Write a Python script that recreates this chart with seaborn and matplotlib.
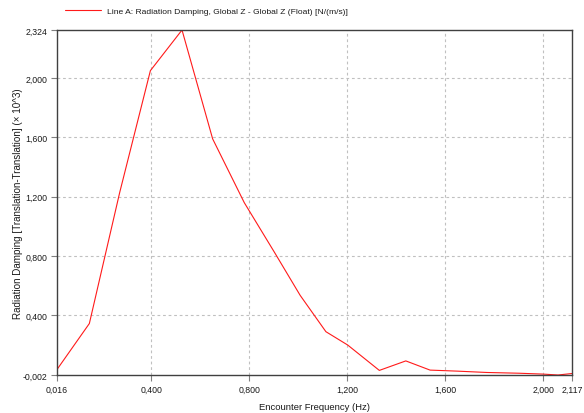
import matplotlib
matplotlib.use("Agg")
import matplotlib.pyplot as plt
from matplotlib.ticker import FixedLocator, FuncFormatter
import seaborn as sns
import pandas as pd

# Radiation damping (heave-heave) vs encounter frequency
freq_hz = [0.016, 0.148, 0.272, 0.397, 0.526, 0.651, 0.780, 0.905, 1.008,
           1.113, 1.202, 1.331, 1.439, 1.538, 1.650, 1.770, 1.900, 2.000,
           2.060, 2.117]
damping_e3 = [0.035, 0.345, 1.230, 2.050, 2.324, 1.590, 1.160, 0.820, 0.535,
              0.290, 0.200, 0.029, 0.093, 0.031, 0.024, 0.015, 0.010, 0.004,
              -0.002, 0.008]

x_ticks = [0.016, 0.400, 0.800, 1.200, 1.600, 2.000, 2.117]
y_ticks = [-0.002, 0.400, 0.800, 1.200, 1.600, 2.000, 2.324]

series_name = "Line A: Radiation Damping, Global Z - Global Z (Float) [N/(m/s)]"
x_label = "Encounter Frequency (Hz)"
y_label = "Radiation Damping [Translation-Translation] (\u00d7 10^3)"

df = pd.DataFrame({"freq": freq_hz, "damping": damping_e3, "series": series_name})

sns.set_style("white")
plt.rcParams["font.family"] = ["Liberation Sans", "DejaVu Sans"]

fig = plt.figure(figsize=(5.84, 4.14), dpi=100)
ax = fig.add_axes([57 / 584, 1 - 376 / 414, (572 - 57) / 584, (376 - 31) / 414])

sns.lineplot(data=df, x="freq", y="damping", hue="series",
             palette=["#ff1a1a"], linewidth=0.8, ax=ax, legend=False)

ax.set_xlim(x_ticks[0], x_ticks[-1])
ax.set_ylim(y_ticks[0], y_ticks[-1])

comma_fmt = FuncFormatter(lambda v, p: f"{v:.3f}".replace(".", ","))
ax.xaxis.set_major_locator(FixedLocator(x_ticks))
ax.yaxis.set_major_locator(FixedLocator(y_ticks))
ax.xaxis.set_major_formatter(comma_fmt)
ax.yaxis.set_major_formatter(comma_fmt)

ax.tick_params(axis="both", which="major", direction="out", length=4,
               width=0.8, color="#808080", labelsize=6.3, labelcolor="#1a1a1a",
               pad=3, bottom=True, left=True)

# dashed grid on interior ticks only
for xv in x_ticks[1:-1]:
    ax.axvline(xv, color="#c0c0c0", linestyle=(0, (2.5, 2.5)), linewidth=0.8, zorder=0)
for yv in y_ticks[1:-1]:
    ax.axhline(yv, color="#c0c0c0", linestyle=(0, (2.5, 2.5)), linewidth=0.8, zorder=0)

for sp in ax.spines.values():
    sp.set_visible(True)
    sp.set_color("#404040")
    sp.set_linewidth(1.0)

ax.set_xlabel(x_label, fontsize=6.8, color="#1a1a1a", va="center")
ax.set_ylabel(y_label, fontsize=7.1, color="#1a1a1a", va="center")
ax.xaxis.set_label_coords(0.5, (376 - 408) / 345)
ax.yaxis.set_label_coords((18 - 57) / 515, 0.5)

handle = plt.Line2D([], [], color="#ff1a1a", linewidth=0.8)
fig.legend([handle], [series_name], loc="center left",
           bbox_to_anchor=(65 / 584, 1 - 12 / 414), frameon=False,
           fontsize=6.1, handlelength=4.3, handletextpad=0.6,
           borderpad=0, borderaxespad=0, labelcolor="#1a1a1a")

fig.savefig("out.png", dpi=100)
